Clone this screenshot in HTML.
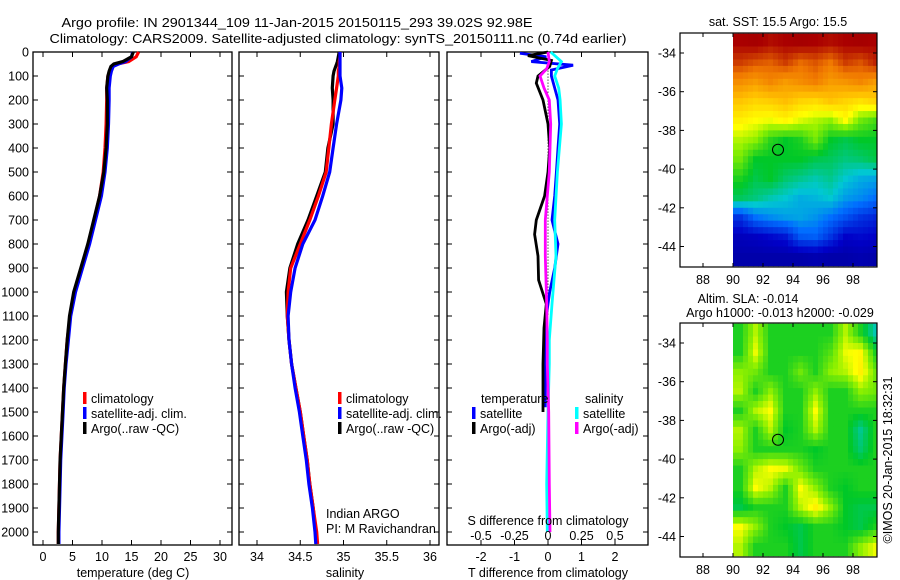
<!DOCTYPE html>
<html><head><meta charset="utf-8"><style>
html,body{margin:0;padding:0;background:#fff;}
svg{display:block;font-family:"Liberation Sans",sans-serif;}
text{font-size:12.5px;fill:#000;}
</style></head><body>
<svg id="fig" width="900" height="580" viewBox="0 0 900 580" xmlns="http://www.w3.org/2000/svg">
<text x="297" y="27" text-anchor="middle" textLength="471" lengthAdjust="spacingAndGlyphs" font-size="13">Argo profile: IN 2901344_109 11-Jan-2015 20150115_293 39.02S 92.98E</text>
<text x="338" y="43" text-anchor="middle" textLength="577" lengthAdjust="spacingAndGlyphs" font-size="13">Climatology: CARS2009. Satellite-adjusted climatology: synTS_20150111.nc (0.74d earlier)</text>
<g id="g"></g>
</svg>
<script>
// ---- data ----
const depthsP = [0,20,40,50,60,80,100,150,200,300,400,500,600,700,800,900,1000,1100,1200,1300,1400,1500,1600,1700,1800,1900,2000,2050];
const tempArgo = [15.3,15.0,13.5,12.0,11.5,11.2,11.0,10.8,10.9,10.9,10.7,10.3,9.6,8.6,7.6,6.4,5.2,4.5,4.1,3.8,3.5,3.3,3.1,2.9,2.8,2.7,2.6,2.6];
const tempClim = [16.2,15.8,14.5,12.5,11.6,11.3,11.0,10.8,10.8,10.7,10.5,10.2,9.6,8.7,7.7,6.5,5.3,4.6,4.1,3.8,3.5,3.3,3.1,2.9,2.8,2.7,2.6,2.6];
const tempSat  = [15.2,15.0,14.0,12.8,11.9,11.6,11.4,11.2,11.2,11.1,10.9,10.5,9.9,8.9,7.9,6.7,5.5,4.7,4.3,3.9,3.6,3.4,3.2,3.0,2.9,2.8,2.7,2.7];
const salArgo = [34.95,34.94,34.93,34.92,34.91,34.89,34.88,34.87,34.88,34.88,34.82,34.79,34.69,34.59,34.47,34.38,34.34,34.35,34.37,34.40,34.45,34.50,34.54,34.58,34.61,34.65,34.68,34.69];
const salClim = [34.96,34.96,34.95,34.95,34.95,34.94,34.94,34.92,34.90,34.86,34.83,34.80,34.71,34.61,34.50,34.39,34.36,34.35,34.37,34.40,34.45,34.50,34.54,34.58,34.61,34.65,34.69,34.70];
const salSat  = [34.96,34.96,34.96,34.96,34.96,34.96,34.96,34.98,34.97,34.92,34.88,34.84,34.76,34.67,34.53,34.44,34.39,34.36,34.37,34.40,34.44,34.49,34.53,34.57,34.60,34.64,34.67,34.68];
const depthsTS = [5,20,40,55,75,100,200,300,400,500,600,700,800,900,1000,1100,1300,1480];
const dTsat = [-0.84,-0.05,-0.5,0.75,0.1,0.1,0.3,0.35,0.3,0.25,0.2,0.12,0.3,0.2,0.05,-0.05,-0.08,-0.08];
const depthsTA = [0,15,35,60,100,130,200,300,400,500,600,700,760,850,950,1050,1150,1300,1500];
const dTargo = [0,-0.6,0.1,0.05,-0.3,-0.35,-0.15,0,0.05,0,-0.1,-0.35,-0.4,-0.3,-0.28,-0.05,-0.12,-0.15,-0.15];
const depthsS = [0,40,70,100,150,200,300,500,700,850,1050,1200,1300,1500,1800,2000];
const dSsat = [0.02,0.1,0.07,0.05,0.08,0.09,0.1,0.07,0.05,0.06,0.03,0.01,0.01,0,-0.01,-0.005];
const dSargo = [0,0.01,-0.01,-0.06,-0.03,0.01,0.02,0.01,-0.02,-0.02,-0.01,-0.005,-0.005,0.005,0.01,0.015];
const depthTicks = [0,100,200,300,400,500,600,700,800,900,1000,1100,1200,1300,1400,1500,1600,1700,1800,1900,2000];
const tTicks = [0,5,10,15,20,25,30];
const sTicks = [34,34.5,35,35.5,36];
const dTTicks = [-2,-1,0,1,2];
const dSTicks = [-0.5,-0.25,0,0.25,0.5];
const lonTicks = [88,90,92,94,96,98];
const latTicks = [-34,-36,-38,-40,-42,-44];
// SST map values (colormap index 0..1), rows lat -33..-44, cols lon 90..99
const sstGrid = [
[.95,.96,.94,.95,.96,.95,.94,.95,.96,.95],
[.9,.88,.87,.9,.86,.88,.85,.9,.88,.92],
[.82,.8,.83,.8,.82,.84,.8,.81,.83,.8],
[.74,.72,.73,.75,.72,.71,.74,.72,.7,.72],
[.68,.66,.65,.67,.64,.62,.6,.66,.58,.55],
[.62,.6,.53,.5,.52,.58,.5,.48,.5,.5],
[.58,.5,.5,.5,.5,.48,.47,.45,.46,.48],
[.52,.48,.5,.46,.44,.42,.44,.4,.37,.36],
[.47,.45,.42,.4,.37,.38,.4,.35,.33,.3],
[.22,.3,.33,.35,.36,.34,.3,.26,.22,.2],
[.13,.14,.16,.18,.27,.28,.22,.15,.16,.15],
[.1,.1,.1,.1,.1,.11,.1,.1,.11,.1]];
const slaGrid = [
[.52,.62,.52,.52,.52,.52,.52,.62,.52,.42],
[.52,.65,.52,.52,.52,.52,.56,.65,.67,.52],
[.6,.58,.52,.52,.58,.52,.6,.62,.68,.58],
[.62,.52,.6,.52,.52,.6,.52,.52,.6,.58],
[.52,.62,.66,.52,.52,.66,.52,.52,.52,.52],
[.62,.52,.62,.5,.52,.62,.52,.52,.44,.52],
[.6,.52,.52,.52,.52,.5,.52,.52,.46,.52],
[.52,.62,.66,.65,.58,.52,.52,.52,.52,.52],
[.52,.66,.62,.52,.66,.6,.52,.5,.52,.52],
[.48,.52,.52,.52,.62,.68,.6,.5,.48,.48],
[.66,.6,.52,.5,.48,.52,.52,.5,.48,.52],
[.62,.52,.52,.52,.48,.52,.52,.52,.6,.65]];

const NS='http://www.w3.org/2000/svg';
const G=document.getElementById('g');
function el(tag,attrs,parent){const e=document.createElementNS(NS,tag);for(const k in attrs)e.setAttribute(k,attrs[k]);(parent||G).appendChild(e);return e;}
function txt(x,y,s,anchor,parent){const t=el('text',{x:x,y:y,'text-anchor':anchor||'middle'},parent);t.textContent=s;return t;}

const TOP=52, BOT=545;
const yD=d=>TOP+0.24*d;
const xT=t=>43+5.9*t;
const xS=s=>257+86.5*(s-34);
const xDT=v=>548+33.5*v;
const xDS=v=>548+134*v;

function frame(x0,x1,name){
  const r=el('rect',{x:x0,y:TOP,width:x1-x0,height:BOT-TOP,fill:'none',stroke:'#000','stroke-width':1.3});
  
  
  depthTicks.forEach(d=>{el('line',{x1:x0,x2:x0+5,y1:yD(d),y2:yD(d),stroke:'#000'});el('line',{x1:x1,x2:x1-5,y1:yD(d),y2:yD(d),stroke:'#000'});});
}
function xticks(x0,x1,ticks,f,y,name){
  const g=el('g',{});
  
  
  ticks.forEach(v=>{const x=f(v);el('line',{x1:x,x2:x,y1:BOT,y2:BOT-5,stroke:'#000'},g);el('line',{x1:x,x2:x,y1:TOP,y2:TOP+5,stroke:'#000'},g);txt(x,y,String(v),'middle',g);});
}
function line(ds,vs,f,color,name,w){
  const pts=ds.map((d,i)=>f(vs[i]).toFixed(1)+','+yD(d).toFixed(1)).join(' ');
  const p=el('polyline',{points:pts,fill:'none',stroke:color,'stroke-width':w||3.2,'stroke-linejoin':'miter'});
  
  
}
const yl=el('g',{});


depthTicks.forEach(d=>txt(29,yD(d)+4.5,String(d),'end',yl));

frame(33,232,'temperature-panel');
xticks(33,232,tTicks,xT,561,'temperature-x-axis');
txt(133,577,'temperature (deg C)');
line(depthsP,tempClim,xT,'#ff0000','temp-climatology-line');
line(depthsP,tempSat,xT,'#0000ff','temp-satellite-line');
line(depthsP,tempArgo,xT,'#000000','temp-argo-line');

frame(239,439,'salinity-panel');
xticks(239,439,sTicks,xS,561,'salinity-x-axis');
txt(345,577,'salinity');
line(depthsP,salArgo,xS,'#000000','sal-argo-line');
line(depthsP,salClim,xS,'#ff0000','sal-climatology-line');
line(depthsP,salSat,xS,'#0000ff','sal-satellite-line');

function legend(x,y,items,name){
  const g=el('g',{});
  
  
  items.forEach((it,i)=>{el('rect',{x:x,y:y+i*15-11,width:3.5,height:12,fill:it[0]},g);txt(x+8,y+i*15,it[1],'start',g);});
}
legend(83,403,[['#ff0000','climatology'],['#0000ff','satellite-adj. clim.'],['#000','Argo(..raw -QC)']],'temperature-legend');
legend(338,403,[['#ff0000','climatology'],['#0000ff','satellite-adj. clim.'],['#000','Argo(..raw -QC)']],'salinity-legend');
txt(326,518,'Indian ARGO','start');
txt(326,533,'PI: M Ravichandran','start');

frame(447,648,'difference-panel');
xticks(447,648,dTTicks,xDT,561,'t-difference-x-axis');
txt(548,577,'T difference from climatology');
el('line',{x1:548,x2:548,y1:yD(40),y2:yD(1100),stroke:'#000','stroke-dasharray':'1,2'});
line(depthsTS,dTsat,xDT,'#0000ff','t-diff-satellite-line',2.8);
line(depthsTA,dTargo,xDT,'#000','t-diff-argo-line',2.8);
line(depthsS,dSsat,xDS,'#00ffff','s-diff-satellite-line',2.8);
line(depthsS,dSargo,xDS,'#ff00ff','s-diff-argo-line',2.8);
const sg=el('g',{});


dSTicks.forEach(v=>txt(xDS(v),540,String(v),'middle',sg));
txt(548,525,'S difference from climatology');
txt(481,403,'temperature','start');
txt(585,403,'salinity','start');
legend(472,418,[['#0000ff','satellite'],['#000','Argo(-adj)']],'t-diff-legend');
legend(575,418,[['#00ffff','satellite'],['#ff00ff','Argo(-adj)']],'s-diff-legend');

function cmap(v){
  const st=[[0,[0,0,110]],[.15,[0,0,200]],[.3,[0,110,255]],[.4,[0,200,210]],[.5,[0,200,40]],[.6,[140,240,0]],[.66,[255,255,0]],[.75,[255,190,0]],[.85,[240,120,0]],[.95,[170,0,0]],[1,[150,0,0]]];
  for(let i=1;i<st.length;i++){if(v<=st[i][0]){const a=st[i-1],b=st[i],t=(v-a[0])/(b[0]-a[0]);return 'rgb('+a[1].map((c,k)=>Math.round(c+(b[1][k]-c)*t)).join(',')+')';}}
  return 'rgb(150,0,0)';
}
function sample(grid,r,c){
  // bilinear sample at fractional row/col (cell centers)
  const R=grid.length, C=grid[0].length;
  r=Math.max(0,Math.min(R-1,r)); c=Math.max(0,Math.min(C-1,c));
  const r0=Math.floor(r), c0=Math.floor(c), r1=Math.min(R-1,r0+1), c1=Math.min(C-1,c0+1);
  const fr=r-r0, fc=c-c0;
  const top=grid[r0][c0]*(1-fc)+grid[r0][c1]*fc, bot=grid[r1][c0]*(1-fc)+grid[r1][c1]*fc;
  return top*(1-fr)+bot*fr;
}
function map(top,grid,name){
  const lonX=l=>733+15*(l-90);
  const latY=l=>top+20+19.35*(-34-l);
  const g=el('g',{});
  
  
  const SUB=3, step=1/SUB;
  for(let r=0;r<grid.length*SUB;r++){
    for(let c=0;c<grid[0].length*SUB;c++){
      const lat0=-33-r*step, lon0=90+c*step;
      if(lon0>=99.6)continue;
      const v=sample(grid,(r+0.5)*step-0.5,(c+0.5)*step-0.5);
      const x0=lonX(lon0), x1=Math.min(lonX(lon0+step),877);
      const cell=el('rect',{x:x0.toFixed(2),y:latY(lat0).toFixed(2),width:(x1-x0+0.4).toFixed(2),height:(19.35*step+0.4).toFixed(2),fill:cmap(v)},g);
      
      
    }
  }
  el('rect',{x:680,y:top,width:197,height:234,fill:'none',stroke:'#000','stroke-width':1.2},g);
  lonTicks.forEach(l=>{el('line',{x1:lonX(l),x2:lonX(l),y1:top+234,y2:top+230,stroke:'#000'},g);el('line',{x1:lonX(l),x2:lonX(l),y1:top,y2:top+4,stroke:'#000'},g);txt(lonX(l),top+251,String(l),'middle',g);});
  latTicks.forEach(l=>{el('line',{x1:680,x2:684,y1:latY(l),y2:latY(l),stroke:'#000'},g);el('line',{x1:877,x2:873,y1:latY(l),y2:latY(l),stroke:'#000'},g);txt(676,latY(l)+4.5,String(l),'end',g);});
  el('circle',{cx:lonX(93),cy:latY(-39),r:5.5,fill:'none',stroke:'#000','stroke-width':1},g);
}
map(33,sstGrid,'sst-map');
map(323,slaGrid,'sla-map');
txt(778,26,'sat. SST: 15.5 Argo: 15.5');
txt(748,303,'Altim. SLA: -0.014');
txt(780,317,'Argo h1000: -0.013 h2000: -0.029');
const cp=txt(0,0,'©IMOS 20-Jan-2015 18:32:31');
cp.setAttribute('transform','translate(892,460) rotate(-90)');


</script>
</body></html>
